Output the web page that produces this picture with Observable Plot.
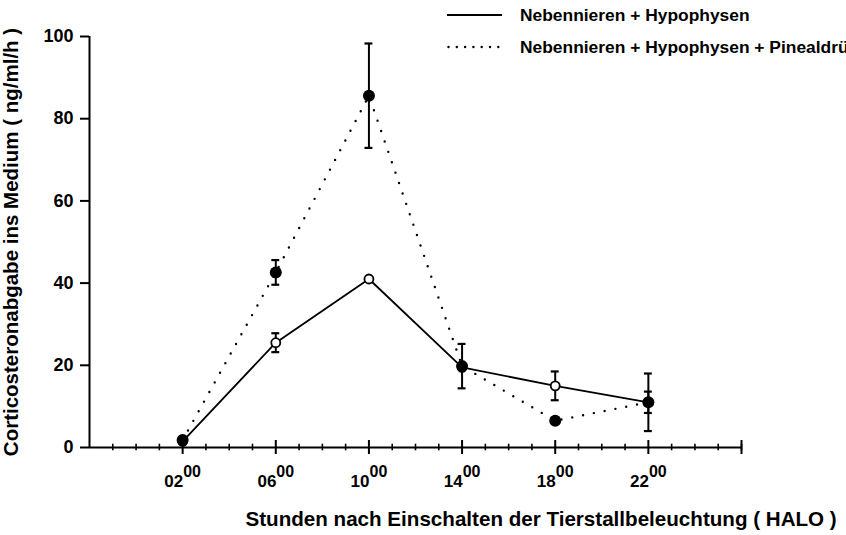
<!DOCTYPE html>
<html><head><meta charset="utf-8">
<script src="https://cdn.jsdelivr.net/npm/d3@7"></script>
<script src="https://cdn.jsdelivr.net/npm/@observablehq/plot@0.6"></script>
<style>
html,body{margin:0;padding:0;background:#fff;}
body{width:846px;height:535px;overflow:hidden;position:relative;font-family:"Liberation Sans",Arial,sans-serif;font-weight:bold;color:#000;}
#chart{position:absolute;left:0;top:0;}
.leg{position:absolute;left:447px;white-space:nowrap;font-size:17.4px;display:flex;align-items:center;height:20px;}
.leg svg{margin-right:18px;}
</style></head><body>
<div id="chart"></div>
<div class="leg" style="top:5px"><svg width="55" height="20"><line x1="0" x2="55" y1="10" y2="10" stroke="#000" stroke-width="1.8"/></svg><span id="l0"></span></div>
<div class="leg" style="top:37px"><svg width="55" height="20"><line x1="1.5" x2="55" y1="10" y2="10" stroke="#000" stroke-width="2.4" stroke-linecap="round" stroke-dasharray="0,8.3"/></svg><span id="l1"></span></div>
<script>
const seriesNames = ["Nebennieren + Hypophysen", "Nebennieren + Hypophysen + Pinealdrüse"];
const hours = [2, 6, 10, 14, 18, 22];
const tickLabels = ["02", "06", "10", "14", "18", "22"];
const tickSup = "00";
const nhMean = [1.5, 25.5, 41.0, 19.5, 15.0, 11.0];
const nhErr  = [0, 2.3, 0, 0, 3.5, 7.0];
const nhpMean = [1.8, 42.6, 85.6, 19.8, 6.5, 11.0];
const nhpErr  = [0, 3.0, 12.7, 5.4, 0, 2.6];
const yTicks = [0, 20, 40, 60, 80, 100];
const xDomain = [-2, 26];
const yLabel = "Corticosteronabgabe ins Medium ( ng/ml/h )";
const xLabel = "Stunden nach Einschalten der Tierstallbeleuchtung ( HALO )";

document.getElementById("l0").textContent = seriesNames[0];
document.getElementById("l1").textContent = seriesNames[1];

const nh = hours.map((h, i) => ({x: h, y: nhMean[i], e: nhErr[i]}));
const nhp = hours.map((h, i) => ({x: h, y: nhpMean[i], e: nhpErr[i]}));
const errs = [...nh, ...nhp].filter(d => d.e > 0);
const minorTicks = d3.range(xDomain[0] + 1, xDomain[1] + 1).filter(h => !hours.includes(h));
const capW = 0.17;

const chart = Plot.plot({
  width: 846, height: 535,
  marginLeft: 89, marginRight: 105, marginTop: 36, marginBottom: 88,
  x: {domain: xDomain, axis: null},
  y: {domain: [0, 100], axis: null},
  style: {fontFamily: "Liberation Sans, Arial, sans-serif", fontWeight: "bold", fontSize: "18px", color: "#000", background: "#fff"},
  marks: [
    Plot.axisY({ticks: yTicks, tickSize: 9, tickPadding: 7, strokeWidth: 2, fontSize: 18, label: null}),
    Plot.axisY({ticks: [], tickSize: 0, fontSize: 20.5, dy: 10,
      label: yLabel, labelAnchor: "center", labelArrow: "none", labelOffset: 86}),
    Plot.axisX({ticks: hours, tickSize: 0, tickPadding: 27, fontSize: 17,
      tickFormat: (d) => tickLabels[hours.indexOf(d)], label: null}),
    Plot.ruleX([xDomain[0]], {strokeWidth: 2}),
    Plot.ruleY([0], {strokeWidth: 2}),
    Plot.ruleX(minorTicks, {x: d => d, y1: -0.8, y2: 0.8, strokeWidth: 1.6}),
    Plot.ruleX(hours.concat([xDomain[1]]), {x: d => d, y1: -1.7, y2: 1.7, strokeWidth: 2}),
    Plot.text([xLabel], {frameAnchor: "bottom-left", textAnchor: "start", dx: 156, dy: 78, fontSize: 20.6}),
    Plot.line(nhp, {x: "x", y: "y", stroke: "#000", strokeWidth: 2.4, strokeDasharray: "0,11", strokeLinecap: "round"}),
    Plot.line(nh, {x: "x", y: "y", stroke: "#000", strokeWidth: 1.8}),
    Plot.ruleX(errs, {x: "x", y1: d => d.y - d.e, y2: d => d.y + d.e, strokeWidth: 2}),
    Plot.ruleY(errs, {y: d => d.y + d.e, x1: d => d.x - capW, x2: d => d.x + capW, strokeWidth: 2.2}),
    Plot.ruleY(errs, {y: d => d.y - d.e, x1: d => d.x - capW, x2: d => d.x + capW, strokeWidth: 2.2}),
    Plot.dot(nh, {x: "x", y: "y", r: 4.5, fill: "#fff", stroke: "#000", strokeWidth: 1.8}),
    Plot.dot(nhp, {x: "x", y: "y", r: 6, fill: "#000", stroke: "none"})
  ]
});
document.getElementById("chart").appendChild(chart);

// superscript hour minutes on the x tick labels
d3.select(chart).selectAll('g[aria-label="x-axis tick label"] text').each(function() {
  const t = d3.select(this);
  const main = t.text();
  t.text(null);
  t.append("tspan").text(main);
  t.append("tspan").attr("dy", "-0.6em").attr("font-size", "16px").text(tickSup);
});
</script>
</body></html>
